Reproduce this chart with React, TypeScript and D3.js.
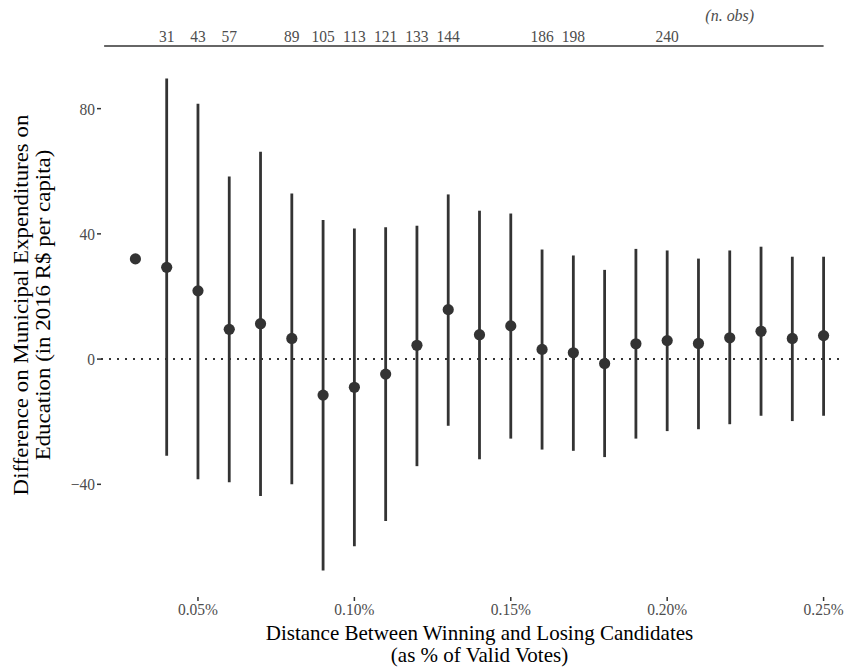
import React from "react";
import * as d3 from "d3";

// Winning margin bins (as % of valid votes)
const margins = [0.03, 0.04, 0.05, 0.06, 0.07, 0.08, 0.09, 0.10, 0.11, 0.12, 0.13, 0.14, 0.15, 0.16, 0.17, 0.18, 0.19, 0.20, 0.21, 0.22, 0.23, 0.24, 0.25];
// Point estimates (2016 R$ per capita)
const estimates = [32.0, 29.3, 21.8, 9.5, 11.3, 6.6, -11.5, -9.0, -4.8, 4.4, 15.8, 7.8, 10.6, 3.1, 2.0, -1.4, 4.9, 5.9, 5.0, 6.8, 8.9, 6.6, 7.5];
// Confidence interval bounds (null where no interval is drawn)
const lowers: (number | null)[] = [null, -30.9, -38.4, -39.3, -43.7, -40.0, -67.5, -59.8, -51.7, -34.2, -21.3, -32.0, -25.4, -28.9, -29.3, -31.3, -25.4, -23.0, -22.4, -20.8, -18.1, -19.8, -18.1];
const uppers: (number | null)[] = [null, 89.6, 81.6, 58.3, 66.2, 52.9, 44.4, 41.7, 42.1, 42.6, 52.6, 47.4, 46.5, 35.0, 33.1, 28.5, 35.2, 34.7, 32.1, 34.7, 35.9, 32.7, 32.7];

// Number of observations shown along the top
const obsMargins = [0.04, 0.05, 0.06, 0.08, 0.09, 0.10, 0.11, 0.12, 0.13, 0.16, 0.17, 0.20];
const obsCounts = [31, 43, 57, 89, 105, 113, 121, 133, 144, 186, 198, 240];

const xTicks = [0.05, 0.10, 0.15, 0.20, 0.25];
const yTicks = [-40, 0, 40, 80];

const W = 844;
const H = 671;
const panel = { left: 101, right: 858, top: 54, bottom: 595 };
const FONT = "'Liberation Serif', 'Times New Roman', serif";
const INK = "#333333";
const AXIS_TEXT = "#4d4d4d";
// glyphs are drawn slightly taller than wide
const STRETCH = 1.09;

function expand(lo: number, hi: number, mult = 0.05): [number, number] {
  const pad = (hi - lo) * mult;
  return [lo - pad, hi + pad];
}

type LabelProps = {
  x: number;
  y: number;
  size: number;
  anchor?: "start" | "middle" | "end";
  fill?: string;
  italic?: boolean;
  dy?: string;
  stretch?: number;
  children: React.ReactNode;
};

// Horizontal label, optionally stretched vertically around its anchor point
function Label({ x, y, size, anchor = "middle", fill = AXIS_TEXT, italic, dy, stretch = STRETCH, children }: LabelProps) {
  return (
    <text
      transform={`translate(${x},${y}) scale(1,${stretch})`}
      textAnchor={anchor}
      fontSize={size}
      fill={fill}
      fontStyle={italic ? "italic" : undefined}
      dy={dy}
    >
      {children}
    </text>
  );
}

export default function App() {
  const xs = d3.extent(margins) as [number, number];
  const allY = [
    ...estimates,
    ...(lowers.filter((v) => v !== null) as number[]),
    ...(uppers.filter((v) => v !== null) as number[]),
  ];
  const ys = d3.extent(allY) as [number, number];

  const x = d3.scaleLinear().domain(expand(xs[0], xs[1])).range([panel.left, panel.right]);
  const y = d3.scaleLinear().domain(expand(ys[0], ys[1])).range([panel.bottom, panel.top]);

  const fmtPct = (v: number) => d3.format(".2f")(v) + "%";
  const yTitleCy = 305;
  const xTitleCx = (panel.left + panel.right) / 2;

  return (
    <svg
      width={W}
      height={H}
      style={{ position: "absolute", left: 0, top: 0, background: "#fff" }}
      fontFamily={FONT}
    >
      {/* zero reference line */}
      <line
        x1={panel.left}
        x2={panel.right}
        y1={y(0)}
        y2={y(0)}
        stroke={INK}
        strokeWidth={2}
        strokeDasharray="2 6"
      />

      {/* confidence intervals */}
      {margins.map((m, i) =>
        lowers[i] !== null && uppers[i] !== null ? (
          <line
            key={"ci" + i}
            x1={x(m)}
            x2={x(m)}
            y1={y(lowers[i] as number)}
            y2={y(uppers[i] as number)}
            stroke={INK}
            strokeWidth={2.8}
          />
        ) : null
      )}

      {/* point estimates */}
      {margins.map((m, i) => (
        <circle key={"pt" + i} cx={x(m)} cy={y(estimates[i])} r={5.6} fill={INK} />
      ))}

      {/* y axis ticks and labels */}
      {yTicks.map((t) => (
        <g key={"yt" + t}>
          <line x1={panel.left - 4} x2={panel.left} y1={y(t)} y2={y(t)} stroke={INK} strokeWidth={1.5} />
          <Label x={panel.left - 6} y={y(t)} dy="0.35em" anchor="end" size={15.5}>
            {t < 0 ? "\u2212" + Math.abs(t) : String(t)}
          </Label>
        </g>
      ))}

      {/* x axis ticks and labels */}
      {xTicks.map((t) => (
        <g key={"xt" + t}>
          <line x1={x(t)} x2={x(t)} y1={panel.bottom + 2} y2={panel.bottom + 6} stroke={INK} strokeWidth={1.5} />
          <Label x={x(t)} y={615} size={15.5}>
            {fmtPct(t)}
          </Label>
        </g>
      ))}

      {/* observation counts along the top */}
      <line x1={x(0.02)} x2={x(0.25)} y1={46} y2={46} stroke={INK} strokeWidth={1.3} />
      {obsMargins.map((m, i) => (
        <Label key={"n" + i} x={x(m)} y={41.5} size={15.5}>
          {obsCounts[i]}
        </Label>
      ))}
      <Label x={x(0.22)} y={21} size={16} italic>
        (n. obs)
      </Label>

      {/* axis titles */}
      <Label x={xTitleCx} y={640} size={21} fill="#000" stretch={1}>
        Distance Between Winning and Losing Candidates
      </Label>
      <Label x={xTitleCx} y={662} size={21} fill="#000" stretch={1}>
        (as % of Valid Votes)
      </Label>
      <text
        transform={`translate(28,${yTitleCy}) rotate(-90) scale(${STRETCH},1)`}
        textAnchor="middle"
        fontSize={21}
        fill="#000"
      >
        Difference on Municipal Expenditures on
      </text>
      <text
        transform={`translate(50,${yTitleCy}) rotate(-90) scale(${STRETCH},1)`}
        textAnchor="middle"
        fontSize={21}
        fill="#000"
      >
        Education (in 2016 R$ per capita)
      </text>
    </svg>
  );
}
